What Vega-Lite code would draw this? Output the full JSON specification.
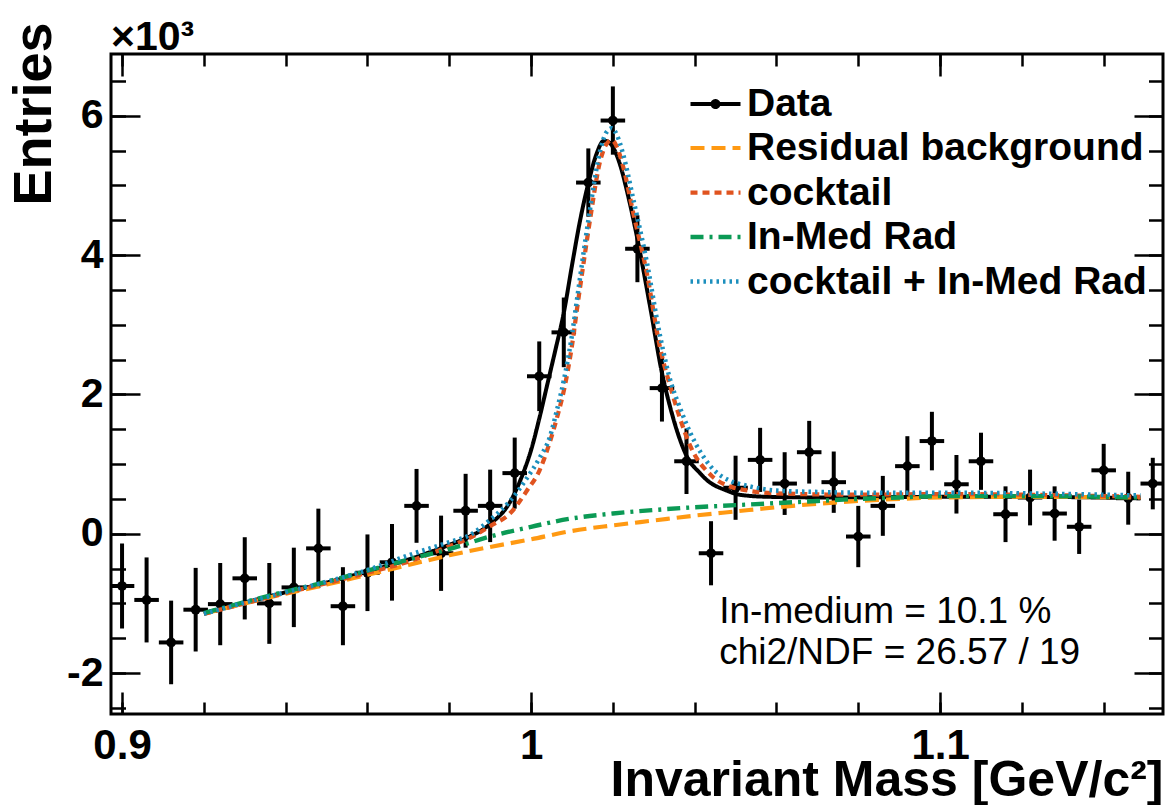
{
  "$schema": "https://vega.github.io/schema/vega-lite/v6.json",
  "width": 1052,
  "height": 660,
  "autosize": "none",
  "padding": {"left": 111, "top": 54, "right": 5, "bottom": 91},
  "background": "white",
  "config": {
    "view": {"stroke": "black", "strokeWidth": 3},
    "axis": {"domain": false, "grid": false, "tickColor": "black", "tickWidth": 2.5, "labelFont": "Liberation Sans", "labelFontWeight": "bold", "labelColor": "black", "titleFont": "Liberation Sans", "titleFontWeight": "bold", "titleColor": "black", "labelFlush": false, "labelOverlap": false}
  },
  "datasets": {
    "curves": [
      {"series":"Fit","m":0.920,"n":-1140},{"series":"Fit","m":0.930,"n":-990},{"series":"Fit","m":0.940,"n":-840},{"series":"Fit","m":0.950,"n":-700},{"series":"Fit","m":0.960,"n":-540},{"series":"Fit","m":0.970,"n":-370},{"series":"Fit","m":0.975,"n":-270},{"series":"Fit","m":0.980,"n":-160},{"series":"Fit","m":0.985,"n":-40},{"series":"Fit","m":0.990,"n":140},{"series":"Fit","m":0.995,"n":470},{"series":"Fit","m":0.998,"n":860},{"series":"Fit","m":1.000,"n":1200},{"series":"Fit","m":1.002,"n":1650},{"series":"Fit","m":1.004,"n":2150},{"series":"Fit","m":1.006,"n":2650},{"series":"Fit","m":1.008,"n":3170},{"series":"Fit","m":1.010,"n":3850},{"series":"Fit","m":1.012,"n":4500},{"series":"Fit","m":1.014,"n":5030},{"series":"Fit","m":1.016,"n":5450},{"series":"Fit","m":1.0178,"n":5640},{"series":"Fit","m":1.019,"n":5620},{"series":"Fit","m":1.020,"n":5550},{"series":"Fit","m":1.022,"n":5250},{"series":"Fit","m":1.0234,"n":4930},{"series":"Fit","m":1.0259,"n":4260},{"series":"Fit","m":1.0291,"n":3260},{"series":"Fit","m":1.032,"n":2310},{"series":"Fit","m":1.034,"n":1820},{"series":"Fit","m":1.036,"n":1420},{"series":"Fit","m":1.038,"n":1120},{"series":"Fit","m":1.0413,"n":870},{"series":"Fit","m":1.043,"n":770},{"series":"Fit","m":1.0478,"n":620},{"series":"Fit","m":1.051,"n":560},{"series":"Fit","m":1.058,"n":530},{"series":"Fit","m":1.074,"n":520},{"series":"Fit","m":1.100,"n":530},{"series":"Fit","m":1.120,"n":530},{"series":"Fit","m":1.149,"n":510},
      {"series":"Residual background","m":0.920,"n":-1150},{"series":"Residual background","m":0.930,"n":-1000},{"series":"Residual background","m":0.940,"n":-860},{"series":"Residual background","m":0.950,"n":-730},{"series":"Residual background","m":0.960,"n":-590},{"series":"Residual background","m":0.970,"n":-450},{"series":"Residual background","m":0.980,"n":-310},{"series":"Residual background","m":0.990,"n":-190},{"series":"Residual background","m":1.000,"n":-80},{"series":"Residual background","m":1.010,"n":40},{"series":"Residual background","m":1.020,"n":120},{"series":"Residual background","m":1.030,"n":190},{"series":"Residual background","m":1.040,"n":260},{"series":"Residual background","m":1.050,"n":320},{"series":"Residual background","m":1.060,"n":380},{"series":"Residual background","m":1.070,"n":430},{"series":"Residual background","m":1.080,"n":470},{"series":"Residual background","m":1.090,"n":500},{"series":"Residual background","m":1.100,"n":520},{"series":"Residual background","m":1.120,"n":530},{"series":"Residual background","m":1.149,"n":520},
      {"series":"cocktail","m":0.920,"n":-1150},{"series":"cocktail","m":0.930,"n":-1000},{"series":"cocktail","m":0.940,"n":-850},{"series":"cocktail","m":0.950,"n":-710},{"series":"cocktail","m":0.960,"n":-560},{"series":"cocktail","m":0.970,"n":-400},{"series":"cocktail","m":0.980,"n":-180},{"series":"cocktail","m":0.985,"n":-60},{"series":"cocktail","m":0.990,"n":110},{"series":"cocktail","m":0.995,"n":300},{"series":"cocktail","m":0.999,"n":620},{"series":"cocktail","m":1.002,"n":900},{"series":"cocktail","m":1.0045,"n":1300},{"series":"cocktail","m":1.0065,"n":1700},{"series":"cocktail","m":1.008,"n":2050},{"series":"cocktail","m":1.010,"n":2700},{"series":"cocktail","m":1.0112,"n":3210},{"series":"cocktail","m":1.013,"n":3950},{"series":"cocktail","m":1.0144,"n":4500},{"series":"cocktail","m":1.0169,"n":5350},{"series":"cocktail","m":1.0183,"n":5580},{"series":"cocktail","m":1.0197,"n":5650},{"series":"cocktail","m":1.021,"n":5550},{"series":"cocktail","m":1.0225,"n":5270},{"series":"cocktail","m":1.025,"n":4600},{"series":"cocktail","m":1.0283,"n":3740},{"series":"cocktail","m":1.0315,"n":2680},{"series":"cocktail","m":1.0343,"n":2060},{"series":"cocktail","m":1.036,"n":1730},{"series":"cocktail","m":1.039,"n":1250},{"series":"cocktail","m":1.044,"n":840},{"series":"cocktail","m":1.049,"n":670},{"series":"cocktail","m":1.052,"n":630},{"series":"cocktail","m":1.060,"n":580},{"series":"cocktail","m":1.080,"n":560},{"series":"cocktail","m":1.100,"n":570},{"series":"cocktail","m":1.120,"n":560},{"series":"cocktail","m":1.149,"n":530},
      {"series":"In-Med Rad","m":0.920,"n":-1140},{"series":"In-Med Rad","m":0.930,"n":-980},{"series":"In-Med Rad","m":0.940,"n":-830},{"series":"In-Med Rad","m":0.950,"n":-690},{"series":"In-Med Rad","m":0.960,"n":-530},{"series":"In-Med Rad","m":0.970,"n":-370},{"series":"In-Med Rad","m":0.980,"n":-220},{"series":"In-Med Rad","m":0.990,"n":-40},{"series":"In-Med Rad","m":1.000,"n":100},{"series":"In-Med Rad","m":1.010,"n":220},{"series":"In-Med Rad","m":1.020,"n":290},{"series":"In-Med Rad","m":1.030,"n":340},{"series":"In-Med Rad","m":1.040,"n":380},{"series":"In-Med Rad","m":1.050,"n":410},{"series":"In-Med Rad","m":1.060,"n":440},{"series":"In-Med Rad","m":1.070,"n":470},{"series":"In-Med Rad","m":1.080,"n":500},{"series":"In-Med Rad","m":1.090,"n":520},{"series":"In-Med Rad","m":1.100,"n":540},{"series":"In-Med Rad","m":1.120,"n":540},{"series":"In-Med Rad","m":1.149,"n":520},
      {"series":"cocktail + In-Med Rad","m":0.920,"n":-1150},{"series":"cocktail + In-Med Rad","m":0.930,"n":-990},{"series":"cocktail + In-Med Rad","m":0.940,"n":-840},{"series":"cocktail + In-Med Rad","m":0.950,"n":-690},{"series":"cocktail + In-Med Rad","m":0.960,"n":-520},{"series":"cocktail + In-Med Rad","m":0.970,"n":-310},{"series":"cocktail + In-Med Rad","m":0.980,"n":-120},{"series":"cocktail + In-Med Rad","m":0.985,"n":-20},{"series":"cocktail + In-Med Rad","m":0.990,"n":200},{"series":"cocktail + In-Med Rad","m":0.995,"n":480},{"series":"cocktail + In-Med Rad","m":0.999,"n":800},{"series":"cocktail + In-Med Rad","m":1.0022,"n":1100},{"series":"cocktail + In-Med Rad","m":1.0046,"n":1390},{"series":"cocktail + In-Med Rad","m":1.0063,"n":1770},{"series":"cocktail + In-Med Rad","m":1.008,"n":2200},{"series":"cocktail + In-Med Rad","m":1.010,"n":2850},{"series":"cocktail + In-Med Rad","m":1.0112,"n":3350},{"series":"cocktail + In-Med Rad","m":1.013,"n":4100},{"series":"cocktail + In-Med Rad","m":1.0144,"n":4650},{"series":"cocktail + In-Med Rad","m":1.0169,"n":5500},{"series":"cocktail + In-Med Rad","m":1.0183,"n":5750},{"series":"cocktail + In-Med Rad","m":1.0197,"n":5820},{"series":"cocktail + In-Med Rad","m":1.021,"n":5720},{"series":"cocktail + In-Med Rad","m":1.0225,"n":5450},{"series":"cocktail + In-Med Rad","m":1.025,"n":4800},{"series":"cocktail + In-Med Rad","m":1.0283,"n":3900},{"series":"cocktail + In-Med Rad","m":1.0315,"n":2850},{"series":"cocktail + In-Med Rad","m":1.0343,"n":2150},{"series":"cocktail + In-Med Rad","m":1.036,"n":1870},{"series":"cocktail + In-Med Rad","m":1.039,"n":1440},{"series":"cocktail + In-Med Rad","m":1.044,"n":960},{"series":"cocktail + In-Med Rad","m":1.049,"n":750},{"series":"cocktail + In-Med Rad","m":1.052,"n":700},{"series":"cocktail + In-Med Rad","m":1.060,"n":620},{"series":"cocktail + In-Med Rad","m":1.070,"n":600},{"series":"cocktail + In-Med Rad","m":1.080,"n":590},{"series":"cocktail + In-Med Rad","m":1.100,"n":590},{"series":"cocktail + In-Med Rad","m":1.120,"n":580},{"series":"cocktail + In-Med Rad","m":1.149,"n":550}
    ],
    "points": [
      {"m":0.900,"m_lo":0.897,"m_hi":0.903,"n":-750,"dn":610},
      {"m":0.906,"m_lo":0.903,"m_hi":0.909,"n":-950,"dn":610},
      {"m":0.912,"m_lo":0.909,"m_hi":0.915,"n":-1560,"dn":600},
      {"m":0.918,"m_lo":0.915,"m_hi":0.921,"n":-1090,"dn":600},
      {"m":0.924,"m_lo":0.921,"m_hi":0.927,"n":-1010,"dn":590},
      {"m":0.930,"m_lo":0.927,"m_hi":0.933,"n":-640,"dn":590},
      {"m":0.936,"m_lo":0.933,"m_hi":0.939,"n":-1000,"dn":580},
      {"m":0.942,"m_lo":0.939,"m_hi":0.945,"n":-770,"dn":570},
      {"m":0.948,"m_lo":0.945,"m_hi":0.951,"n":-210,"dn":570},
      {"m":0.954,"m_lo":0.951,"m_hi":0.957,"n":-1040,"dn":560},
      {"m":0.960,"m_lo":0.957,"m_hi":0.963,"n":-560,"dn":550},
      {"m":0.966,"m_lo":0.963,"m_hi":0.969,"n":-410,"dn":550},
      {"m":0.972,"m_lo":0.969,"m_hi":0.975,"n":400,"dn":530},
      {"m":0.978,"m_lo":0.975,"m_hi":0.981,"n":-280,"dn":540},
      {"m":0.984,"m_lo":0.981,"m_hi":0.987,"n":330,"dn":530},
      {"m":0.990,"m_lo":0.987,"m_hi":0.993,"n":400,"dn":520},
      {"m":0.996,"m_lo":0.993,"m_hi":0.999,"n":870,"dn":510},
      {"m":1.002,"m_lo":0.999,"m_hi":1.005,"n":2260,"dn":500},
      {"m":1.008,"m_lo":1.005,"m_hi":1.011,"n":2890,"dn":500},
      {"m":1.014,"m_lo":1.011,"m_hi":1.017,"n":5040,"dn":490},
      {"m":1.020,"m_lo":1.017,"m_hi":1.023,"n":5930,"dn":490},
      {"m":1.026,"m_lo":1.023,"m_hi":1.029,"n":4090,"dn":480},
      {"m":1.032,"m_lo":1.029,"m_hi":1.035,"n":2090,"dn":480},
      {"m":1.038,"m_lo":1.035,"m_hi":1.041,"n":1040,"dn":470},
      {"m":1.044,"m_lo":1.041,"m_hi":1.047,"n":-280,"dn":460},
      {"m":1.050,"m_lo":1.047,"m_hi":1.053,"n":660,"dn":460},
      {"m":1.056,"m_lo":1.053,"m_hi":1.059,"n":1060,"dn":460},
      {"m":1.062,"m_lo":1.059,"m_hi":1.065,"n":720,"dn":450},
      {"m":1.068,"m_lo":1.065,"m_hi":1.071,"n":1170,"dn":450},
      {"m":1.074,"m_lo":1.071,"m_hi":1.077,"n":740,"dn":440},
      {"m":1.080,"m_lo":1.077,"m_hi":1.083,"n":-40,"dn":440},
      {"m":1.086,"m_lo":1.083,"m_hi":1.089,"n":400,"dn":430},
      {"m":1.092,"m_lo":1.089,"m_hi":1.095,"n":970,"dn":430},
      {"m":1.098,"m_lo":1.095,"m_hi":1.101,"n":1330,"dn":420},
      {"m":1.104,"m_lo":1.101,"m_hi":1.107,"n":710,"dn":420},
      {"m":1.110,"m_lo":1.107,"m_hi":1.113,"n":1040,"dn":410},
      {"m":1.116,"m_lo":1.113,"m_hi":1.119,"n":280,"dn":400},
      {"m":1.122,"m_lo":1.119,"m_hi":1.125,"n":520,"dn":400},
      {"m":1.128,"m_lo":1.125,"m_hi":1.131,"n":290,"dn":390},
      {"m":1.134,"m_lo":1.131,"m_hi":1.137,"n":100,"dn":390},
      {"m":1.140,"m_lo":1.137,"m_hi":1.143,"n":910,"dn":380},
      {"m":1.146,"m_lo":1.143,"m_hi":1.149,"n":510,"dn":380},
      {"m":1.152,"m_lo":1.149,"m_hi":1.155,"n":720,"dn":370}
    ],
    "notes": [
      {"label":"In-medium = 10.1 %","m":1.046,"n":-1281},
      {"label":"chi2/NDF = 26.57 / 19","m":1.046,"n":-1870}
    ],
    "scale_note": [
      {"label":"×10³","m":0.8973,"n":6940}
    ]
  },
  "resolve": {"axis": {"x": "independent", "y": "independent"}},
  "layer": [
    {
      "data": {"name": "points"},
      "mark": {"type": "errorbar", "ticks": false, "thickness": 4, "color": "black", "clip": true},
      "encoding": {
        "x": {"field": "m", "type": "quantitative", "scale": {"domain": [0.8973, 1.1545], "nice": false, "zero": false}, "axis": null},
        "y": {"field": "n", "type": "quantitative", "scale": {"domain": [-2587, 6885], "nice": false, "zero": false}, "axis": null},
        "yError": {"field": "dn"}
      }
    },
    {
      "data": {"name": "points"},
      "mark": {"type": "rule", "strokeWidth": 4, "color": "black", "clip": true},
      "encoding": {
        "x": {"field": "m_lo", "type": "quantitative", "scale": {"domain": [0.8973, 1.1545], "nice": false, "zero": false},
              "axis": {"orient": "bottom", "values": [0.9,0.92,0.94,0.96,0.98,1.0,1.02,1.04,1.06,1.08,1.1,1.12,1.14], "tickSize": -12, "labels": false, "title": null}},
        "x2": {"field": "m_hi"},
        "y": {"field": "n", "type": "quantitative", "scale": {"domain": [-2587, 6885], "nice": false, "zero": false},
              "axis": {"orient": "left", "values": [-2500,-2000,-1500,-1000,-500,0,500,1000,1500,2000,2500,3000,3500,4000,4500,5000,5500,6000,6500], "tickSize": -14.5, "labels": false, "title": null}}
      }
    },
    {
      "data": {"name": "points"},
      "mark": {"type": "circle", "size": 95, "color": "black", "opacity": 1, "clip": true},
      "encoding": {
        "x": {"field": "m", "type": "quantitative", "scale": {"domain": [0.8973, 1.1545], "nice": false, "zero": false},
              "axis": {"orient": "top", "values": [0.9, 1.0, 1.1], "tickSize": -22, "labels": false, "title": null}},
        "y": {"field": "n", "type": "quantitative", "scale": {"domain": [-2587, 6885], "nice": false, "zero": false},
              "axis": {"orient": "right", "values": [-2000, 0, 2000, 4000, 6000], "tickSize": -29, "labels": false, "title": null}}
      }
    },
    {
      "data": {"name": "curves"},
      "mark": {"type": "line", "interpolate": "monotone"},
      "encoding": {
        "x": {"field": "m", "type": "quantitative", "scale": {"domain": [0.8973, 1.1545], "nice": false, "zero": false},
              "axis": {"orient": "bottom", "values": [0.9, 1.0, 1.1], "tickSize": -22, "labelFontSize": 42, "labelPadding": 33, "labelExpr": "toString(datum.value)",
                       "title": "Invariant Mass [GeV/c²]", "titleFontSize": 50, "titleX": 1052, "titleY": 81, "titleAlign": "right", "titleBaseline": "alphabetic", "titleAnchor": "end"}},
        "y": {"field": "n", "type": "quantitative", "scale": {"domain": [-2587, 6885], "nice": false, "zero": false},
              "axis": {"orient": "left", "values": [-2000, 0, 2000, 4000, 6000], "tickSize": -29, "labelFontSize": 41, "labelPadding": 37, "labelExpr": "toString(datum.value / 1000)",
                       "title": "Entries", "titleFontSize": 54, "titleAngle": 270, "titleX": -61, "titleY": -32, "titleAlign": "right", "titleBaseline": "alphabetic"}},
        "color": {"field": "series", "type": "nominal",
                  "scale": {"domain": ["Fit", "Residual background", "cocktail", "In-Med Rad", "cocktail + In-Med Rad"], "range": ["#000000", "#ff9912", "#e0531f", "#0b9a55", "#1c8fbd"]},
                  "legend": {"orient": "none", "legendX": 582, "legendY": 28, "title": null, "padding": 0, "labelFont": "Liberation Sans", "labelFontWeight": "bold", "labelFontSize": 39, "labelColor": "black", "labelLimit": 0, "labelOffset": 9,
                             "symbolType": "M-1.25,0L1.25,0", "symbolSize": 1600, "symbolStrokeWidth": 4, "rowPadding": 1.5,
                             "labelExpr": "datum.label == 'Fit' ? 'Data' : datum.label",
                             "encode": {"symbols": {"update": {"shape": {"signal": "datum.value == 'Fit' ? 'M-1.25,0L1.25,0M0.15,0A0.15,0.15,0,1,1,-0.15,0A0.15,0.15,0,1,1,0.15,0' : 'M-1.25,0L1.25,0'"}}}}}},
        "strokeDash": {"field": "series", "type": "nominal",
                       "scale": {"domain": ["Fit", "Residual background", "cocktail", "In-Med Rad", "cocktail + In-Med Rad"], "range": [[1, 0], [14, 7], [7, 5], [13, 6, 3, 6], [2.5, 4]]},
                       "legend": {"orient": "none", "legendX": 582, "legendY": 28, "title": null, "padding": 0, "labelFont": "Liberation Sans", "labelFontWeight": "bold", "labelFontSize": 39, "labelColor": "black", "labelLimit": 0, "labelOffset": 9,
                             "symbolType": "M-1.25,0L1.25,0", "symbolSize": 1600, "symbolStrokeWidth": 4, "rowPadding": 1.5,
                             "labelExpr": "datum.label == 'Fit' ? 'Data' : datum.label",
                             "encode": {"symbols": {"update": {"shape": {"signal": "datum.value == 'Fit' ? 'M-1.25,0L1.25,0M0.15,0A0.15,0.15,0,1,1,-0.15,0A0.15,0.15,0,1,1,0.15,0' : 'M-1.25,0L1.25,0'"}}}}}},
        "strokeWidth": {"field": "series", "type": "nominal",
                        "scale": {"domain": ["Fit", "Residual background", "cocktail", "In-Med Rad", "cocktail + In-Med Rad"], "range": [4, 4.5, 5, 4.5, 3.5]}, "legend": null}
      }
    },
    {
      "data": {"name": "notes"},
      "mark": {"type": "text", "align": "left", "baseline": "alphabetic", "font": "Liberation Sans", "fontSize": 37, "color": "black"},
      "encoding": {
        "x": {"field": "m", "type": "quantitative", "scale": {"domain": [0.8973, 1.1545], "nice": false, "zero": false},
              "axis": {"orient": "top", "values": [0.9,0.92,0.94,0.96,0.98,1.0,1.02,1.04,1.06,1.08,1.1,1.12,1.14], "tickSize": -12, "labels": false, "title": null}},
        "y": {"field": "n", "type": "quantitative", "scale": {"domain": [-2587, 6885], "nice": false, "zero": false},
              "axis": {"orient": "right", "values": [-2500,-2000,-1500,-1000,-500,0,500,1000,1500,2000,2500,3000,3500,4000,4500,5000,5500,6000,6500], "tickSize": -14.5, "labels": false, "title": null}},
        "text": {"field": "label"}
      }
    },
    {
      "data": {"name": "scale_note"},
      "mark": {"type": "text", "align": "left", "baseline": "alphabetic", "font": "Liberation Sans", "fontWeight": "bold", "fontSize": 41, "color": "black"},
      "encoding": {
        "x": {"field": "m", "type": "quantitative", "scale": {"domain": [0.8973, 1.1545], "nice": false, "zero": false}, "axis": null},
        "y": {"field": "n", "type": "quantitative", "scale": {"domain": [-2587, 6885], "nice": false, "zero": false}, "axis": null},
        "text": {"field": "label"}
      }
    }
  ]
}
